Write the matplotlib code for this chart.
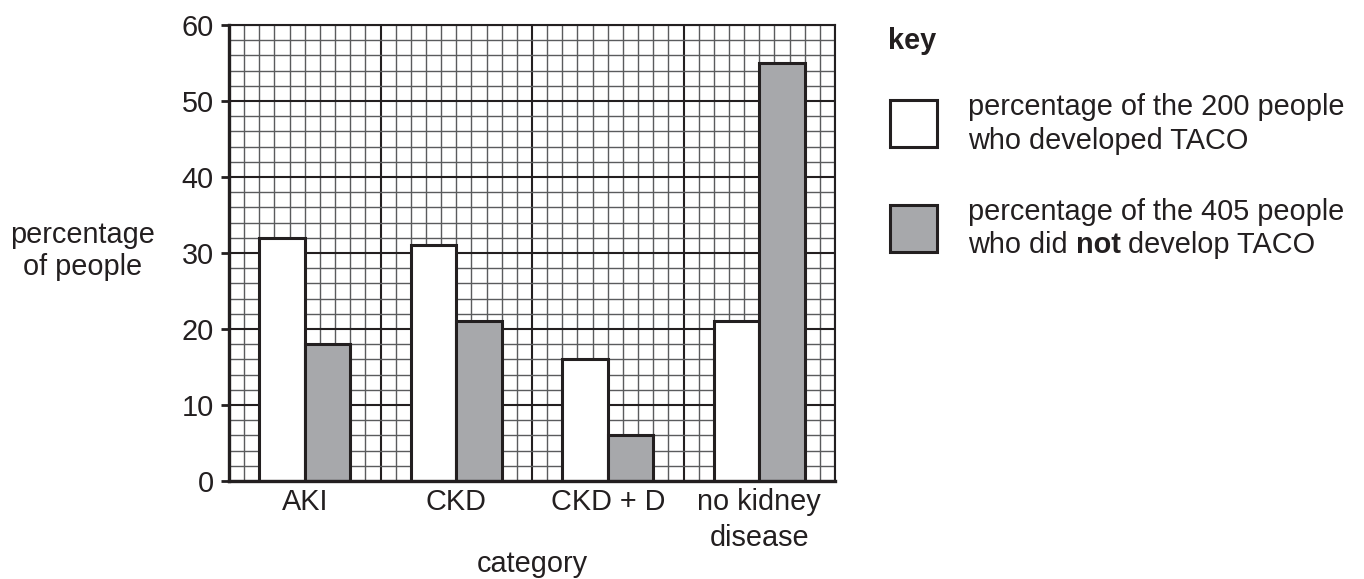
import matplotlib
matplotlib.use("Agg")
import matplotlib.pyplot as plt
from matplotlib.ticker import MultipleLocator
from matplotlib.patches import Rectangle
import numpy as np

categories = ["AKI", "CKD", "CKD + D", "no kidney\ndisease"]
taco = [32, 31, 16, 21]
no_taco = [18, 21, 6, 55]
yticks = [0, 10, 20, 30, 40, 50, 60]
ylabel_lines = ["percentage", "of people"]
legend_line1 = ["percentage of the 200 people", "percentage of the 405 people"]
legend_line2a = "who developed TACO"
legend_line2b = ["who did ", "not", " develop TACO"]

plt.rcParams['font.family'] = ['Liberation Sans', 'DejaVu Sans']
GRAY = '#a7a8ab'
INK = '#231f20'
FS = 20.8

fig = plt.figure(figsize=(13.64, 5.79), dpi=100)
ax = fig.add_axes([229/1364, 1-481/579, (835-229)/1364, (481-25)/579])

x = np.arange(len(categories))
w = 0.3
ax.bar(x + 0.2, taco, width=w, align='edge', color='white', edgecolor=INK, linewidth=2.2, zorder=3)
ax.bar(x + 0.5, no_taco, width=w, align='edge', color=GRAY, edgecolor=INK, linewidth=2.2, zorder=3)

ax.set_xlim(0, 4)
ax.set_ylim(0, 60)
ax.xaxis.set_major_locator(MultipleLocator(1))
ax.xaxis.set_minor_locator(MultipleLocator(0.1))
ax.yaxis.set_major_locator(MultipleLocator(10))
ax.yaxis.set_minor_locator(MultipleLocator(2))
ax.grid(which='minor', color='#5a5b5d', linewidth=1.0, zorder=1)
ax.grid(which='major', color=INK, linewidth=1.5, zorder=2)
ax.set_axisbelow(True)

ax.set_yticks(yticks)
ax.tick_params(axis='y', which='major', length=6, width=2, color=INK, labelsize=FS, pad=5, labelcolor=INK)
ax.tick_params(axis='y', which='minor', length=0)
ax.tick_params(axis='x', which='both', length=0, labelbottom=False)

for i, c in enumerate(categories):
    ax.annotate(c, xy=(i + 0.5, 0), xycoords='data', xytext=(0, -5), textcoords='offset points',
                ha='center', va='top', fontsize=FS, color=INK, linespacing=1.36)

for s in ['left', 'bottom']:
    ax.spines[s].set_linewidth(2.4)
    ax.spines[s].set_color(INK)
    ax.spines[s].set_zorder(4)
for s in ['top', 'right']:
    ax.spines[s].set_linewidth(1.5)
    ax.spines[s].set_color(INK)

fig.text(83/1364, 1-243/579, ylabel_lines[0], ha='center', va='baseline', fontsize=FS, color=INK)
fig.text(83/1364, 1-275/579, ylabel_lines[1], ha='center', va='baseline', fontsize=FS, color=INK)
fig.text(532/1364, 1-572/579, "category", ha='center', va='baseline', fontsize=FS, color=INK)

fig.text(888/1364, 1-49/579, "key", ha='left', va='baseline', fontsize=FS, fontweight='bold', color=INK)

for (y0, fc) in [(100, 'white'), (205, GRAY)]:
    fig.patches.append(Rectangle((890/1364, 1-(y0+47)/579), 47/1364, 47/579, transform=fig.transFigure,
                                 facecolor=fc, edgecolor=INK, linewidth=2.2))

fig.text(968/1364, 1-115/579, legend_line1[0], ha='left', va='baseline', fontsize=FS, color=INK)
fig.text(968/1364, 1-149/579, legend_line2a, ha='left', va='baseline', fontsize=FS, color=INK)
fig.text(968/1364, 1-220/579, legend_line1[1], ha='left', va='baseline', fontsize=FS, color=INK)
t1 = fig.text(968/1364, 1-253/579, legend_line2b[0], ha='left', va='baseline', fontsize=FS, color=INK)
t2 = ax.annotate(legend_line2b[1], xy=(1, 0), xycoords=t1, xytext=(0, 0), textcoords='offset points',
                 ha='left', va='bottom', fontsize=FS, fontweight='bold', color=INK)
t3 = ax.annotate(legend_line2b[2], xy=(1, 0), xycoords=t2, xytext=(0, 0), textcoords='offset points',
                 ha='left', va='bottom', fontsize=FS, color=INK)

fig.savefig("out.png", dpi=100)
